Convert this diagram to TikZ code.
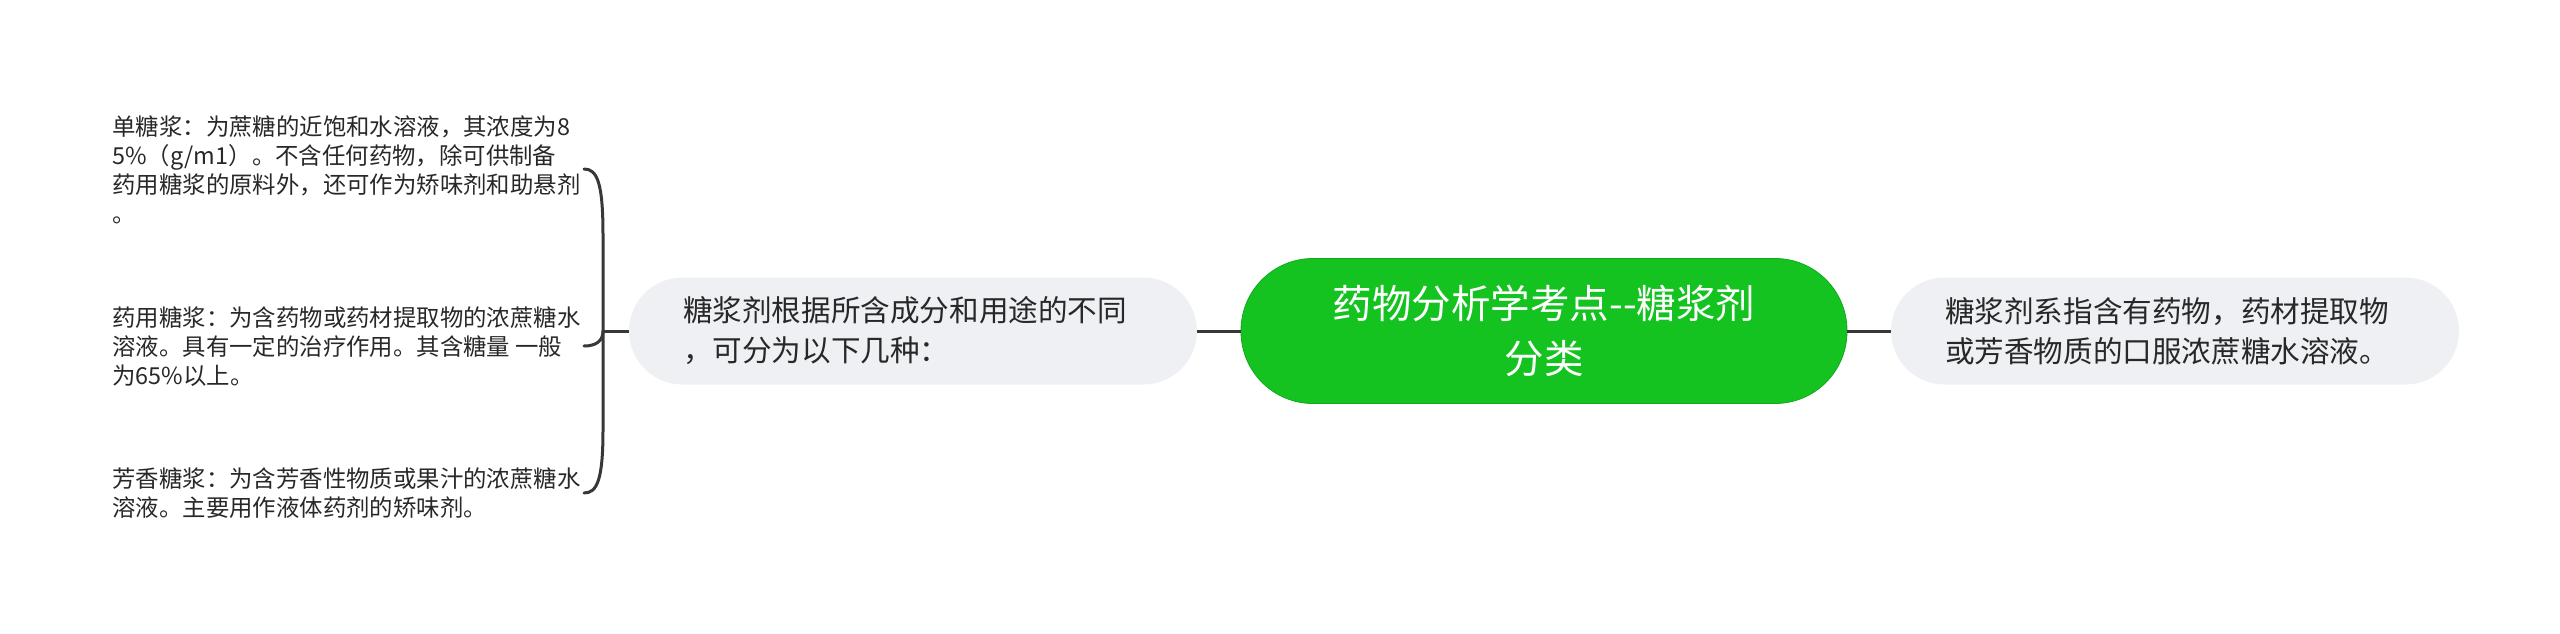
\documentclass[tikz,border=0pt]{standalone}
\usepackage{fontspec}
\setmainfont{Noto Sans CJK SC}
\definecolor{cgreen}{RGB}{20,194,32}
\definecolor{cgreenb}{RGB}{16,170,28}
\definecolor{cgray}{RGB}{238,240,243}
\definecolor{ctext}{RGB}{40,40,40}
\definecolor{cline}{RGB}{56,56,56}
\tikzset{
  rootbox/.style={fill=cgreen, draw=cgreenb, line width=0.4pt, rounded corners=36pt,
    minimum width=303pt, minimum height=72.5pt, inner sep=0pt, align=center,
    text=white, font=\fontsize{19.75pt}{27.5pt}\selectfont},
  subbox/.style={fill=cgray, draw=none, rounded corners=26.75pt,
    minimum height=53.5pt, text width=230pt, inner xsep=27pt, inner ysep=0pt,
    align=left, text=ctext, font=\fontsize{14.8pt}{20pt}\selectfont},
  leafbox/.style={anchor=west, inner sep=0pt, align=left, text=ctext,
    font=\fontsize{11.7pt}{14.5pt}\selectfont},
  link/.style={draw=cline, line width=1.5pt},
}
\begin{document}
\begin{tikzpicture}[x=0.5pt, y=-0.5pt]
\useasboundingbox (0,0) rectangle (2560,633);
\node[rootbox] (root) at (1544,331) {药物分析学考点-{}-糖浆剂\\分类};
\node[subbox] (lnode) at (913,331) {糖浆剂根据所含成分和用途的不同\\，可分为以下几种：};
\node[subbox] (rnode) at (2175,331) {糖浆剂系指含有药物，药材提取物\\或芳香物质的口服浓蔗糖水溶液。};
\node[leafbox] (leaf1) at (112,169.5) {单糖浆：为蔗糖的近饱和水溶液，其浓度为8\\5\%（g/m1）。不含任何药物，除可供制备\\药用糖浆的原料外，还可作为矫味剂和助悬剂\\。};
\node[leafbox] (leaf2) at (112,347) {药用糖浆：为含药物或药材提取物的浓蔗糖水\\溶液。具有一定的治疗作用。其含糖量 一般\\为65\%以上。};
\node[leafbox] (leaf3) at (112,493) {芳香糖浆：为含芳香性物质或果汁的浓蔗糖水\\溶液。主要用作液体药剂的矫味剂。};
\coordinate (fork) at (603,331);
\coordinate (e1) at (584,169);
\coordinate (e2) at (584,346);
\coordinate (e3) at (584,493);
\path[link] (lnode.east) -- (root.west);
\path[link] (root.east) -- (rnode.west);
\path[link] (lnode.west) -- (fork);
\path[link, line cap=round] (fork) -- (603,235) .. controls (603,182) and (597,169) .. (e1);
\path[link, line cap=round] (fork) .. controls (603,341) and (596,346) .. (e2);
\path[link, line cap=round] (fork) -- (603,430) .. controls (603,480) and (597,493) .. (e3);
\end{tikzpicture}
\end{document}
